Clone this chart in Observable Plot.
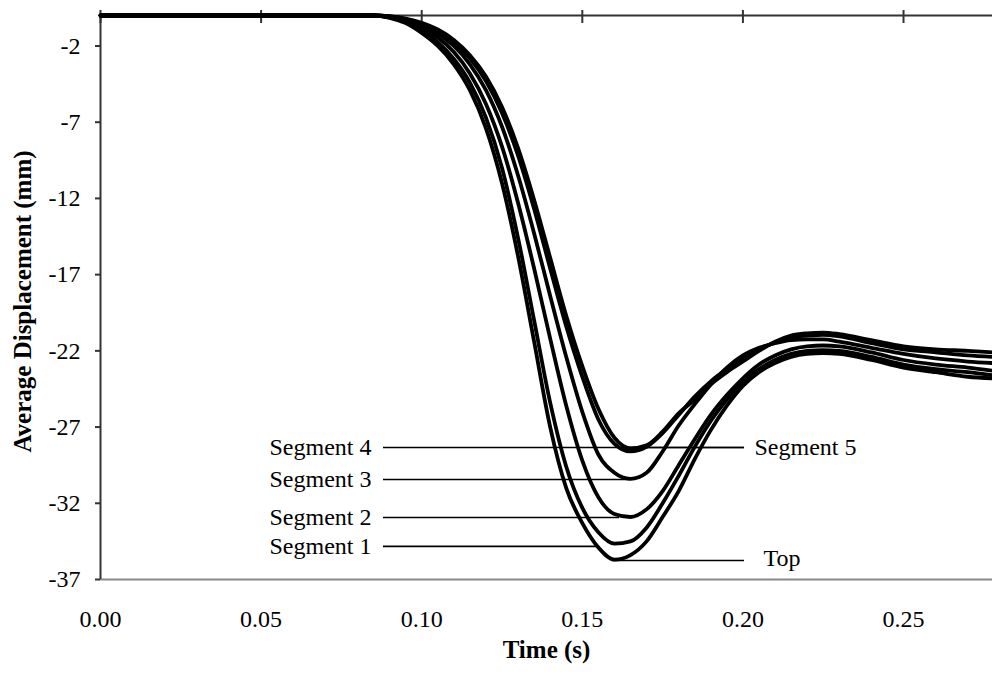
<!DOCTYPE html>
<html>
<head>
<meta charset="utf-8">
<script src="https://cdn.jsdelivr.net/npm/d3@7"></script>
<script src="https://cdn.jsdelivr.net/npm/@observablehq/plot@0.6"></script>
<style>
  body { margin: 0; background: #fff; }
</style>
</head>
<body>
<div id="chart"></div>
<script>
// Time (s) at which displacements were read
const times = [0, 0.085, 0.09, 0.095, 0.10, 0.105, 0.11, 0.115, 0.12, 0.125, 0.13, 0.135, 0.14, 0.145, 0.15, 0.155, 0.16, 0.165, 0.17, 0.175, 0.18, 0.185, 0.19, 0.195, 0.20, 0.205, 0.21, 0.215, 0.22, 0.225, 0.23, 0.24, 0.25, 0.26, 0.27, 0.2777];

// Average displacement (mm) per series
const topValues  = [0, 0, -0.15, -0.5, -1.15, -2.0, -3.2, -4.9, -7.4, -11.0, -15.8, -21.4, -27.0, -31.0, -33.3, -34.9, -35.7, -35.4, -34.5, -32.9, -31.2, -29.1, -27.2, -25.6, -24.3, -23.4, -22.8, -22.4, -22.2, -22.15, -22.2, -22.6, -23.1, -23.4, -23.7, -23.8];
const seg1Values = [0, 0, -0.12, -0.42, -0.98, -1.75, -2.85, -4.4, -6.7, -10.0, -14.6, -20.0, -25.4, -29.6, -32.3, -33.9, -34.65, -34.5, -33.6, -32.0, -30.2, -28.3, -26.6, -25.2, -24.0, -23.2, -22.6, -22.2, -22.0, -21.95, -22.0, -22.4, -22.9, -23.2, -23.4, -23.6];
const seg2Values = [0, 0, -0.1, -0.35, -0.8, -1.45, -2.4, -3.8, -5.8, -8.6, -12.3, -16.6, -21.2, -25.6, -29.2, -31.6, -32.7, -32.9, -32.4, -31.2, -29.5, -27.8, -26.2, -24.9, -23.8, -22.9, -22.3, -21.9, -21.7, -21.65, -21.7, -22.1, -22.6, -22.9, -23.1, -23.3];
const seg3Values = [0, 0, -0.08, -0.28, -0.65, -1.2, -2.0, -3.2, -4.9, -7.3, -10.5, -14.3, -18.4, -22.4, -26.0, -28.8, -30.0, -30.4, -30.0, -28.6, -26.9, -25.5, -24.2, -23.1, -22.3, -21.8, -21.5, -21.3, -21.25, -21.25, -21.4, -21.8, -22.2, -22.5, -22.7, -22.8];
const seg4Values = [0, 0, -0.06, -0.24, -0.56, -1.05, -1.75, -2.8, -4.3, -6.4, -9.2, -12.7, -16.6, -20.4, -23.7, -26.5, -28.1, -28.6, -28.3, -27.4, -26.2, -25.0, -24.0, -23.2, -22.5, -21.9, -21.45, -21.1, -21.0, -20.95, -21.05, -21.5, -21.9, -22.1, -22.3, -22.4];
const seg5Values = [0, 0, -0.05, -0.2, -0.48, -0.92, -1.6, -2.6, -4.0, -6.0, -8.7, -12.1, -15.9, -19.7, -23.0, -25.8, -27.7, -28.4, -28.2, -27.3, -26.1, -25.2, -24.2, -23.4, -22.7, -22.0, -21.4, -21.0, -20.85, -20.8, -20.9, -21.3, -21.7, -21.9, -22.0, -22.1];

const seriesNames = ["Top", "Segment 1", "Segment 2", "Segment 3", "Segment 4", "Segment 5"];
const seriesValues = [topValues, seg1Values, seg2Values, seg3Values, seg4Values, seg5Values];

// Axis ticks
const xTicks = [0, 0.05, 0.10, 0.15, 0.20, 0.25];
const yTicks = [-37, -32, -27, -22, -17, -12, -7, -2];

// Annotation labels (leader lines at each series' minimum)
const leftLabels = ["Segment 4", "Segment 3", "Segment 2", "Segment 1"];
const leftLabelY = [-28.34, -30.44, -32.93, -34.83];
const leftLeaderStart = 0.0881;
const leftLeaderEnd = [0.2005, 0.1650, 0.1616, 0.1554];
const rightLabels = ["Segment 5", "Top"];
const rightLabelY = [-28.34, -35.75];
const rightLeaderStart = [0.1640, 0.1594];
const rightLeaderEnd = 0.2005;

const rows = [];
seriesNames.forEach((name, k) => {
  seriesValues[k].forEach((v, i) => rows.push({series: name, t: times[i], v}));
});
const leftRows = leftLabels.map((s, i) => ({label: s, y: leftLabelY[i], x1: leftLeaderStart, x2: leftLeaderEnd[i]}));
const rightRows = rightLabels.map((s, i) => ({label: s, y: rightLabelY[i], x1: rightLeaderStart[i], x2: rightLeaderEnd}));

const font = "'Liberation Serif', 'Times New Roman', serif";

const chart = Plot.plot({
  width: 992,
  height: 675,
  marginLeft: 100,
  marginRight: 0,
  marginTop: 15,
  marginBottom: 96,
  style: {fontFamily: font, fontSize: "24px", background: "#fff", color: "#000", overflow: "visible"},
  x: {domain: [0, 0.2777], axis: null},
  y: {domain: [-37, 0], axis: null},
  marks: [
    Plot.ruleY([-37], {stroke: "#8a8a8a", strokeWidth: 2}),
    Plot.ruleX([0], {stroke: "#333", strokeWidth: 2}),
    Plot.ruleY([0], {stroke: "#333", strokeWidth: 2}),
    Plot.ruleX(xTicks, {x: d => d, y1: 0, y2: 0, insetTop: 8, insetBottom: 5, stroke: "#333", strokeWidth: 2}),
    Plot.axisY({ticks: yTicks, tickSize: 5, tickPadding: 15, tickFormat: d => `${d}`, label: null, fontSize: 24, stroke: "#333", strokeWidth: 2}),
    Plot.axisX({ticks: xTicks, tickSize: 0, tickPadding: 30, tickFormat: d3.format(".2f"), label: null, fontSize: 24}),
    Plot.ruleY(leftRows, {y: "y", x1: "x1", x2: "x2", stroke: "#000", strokeWidth: 1.6}),
    Plot.ruleY(rightRows, {y: "y", x1: "x1", x2: "x2", stroke: "#000", strokeWidth: 1.6}),
    Plot.line(rows, {x: "t", y: "v", z: "series", stroke: "#000", strokeWidth: 3.8, curve: "monotone-x"}),
    Plot.text(leftRows, {x: "x1", y: "y", text: "label", textAnchor: "end", dx: -12, fontSize: 24}),
    Plot.text(rightRows.filter(d => d.label === "Segment 5"), {x: "x2", y: "y", text: "label", textAnchor: "start", dx: 10, fontSize: 24}),
    Plot.text(rightRows.filter(d => d.label === "Top"), {x: "x2", y: "y", text: "label", textAnchor: "start", dx: 19, dy: -2, fontSize: 24}),
    Plot.text(["Average Displacement (mm)"], {text: d => d, frameAnchor: "left", textAnchor: "middle", dx: -78, dy: 4, rotate: -90, fontWeight: "bold", fontSize: 25}),
    Plot.text(["Time (s)"], {text: d => d, frameAnchor: "bottom", textAnchor: "middle", dy: 78, fontWeight: "bold", fontSize: 25})
  ]
});
document.getElementById("chart").appendChild(chart);
</script>
</body>
</html>
